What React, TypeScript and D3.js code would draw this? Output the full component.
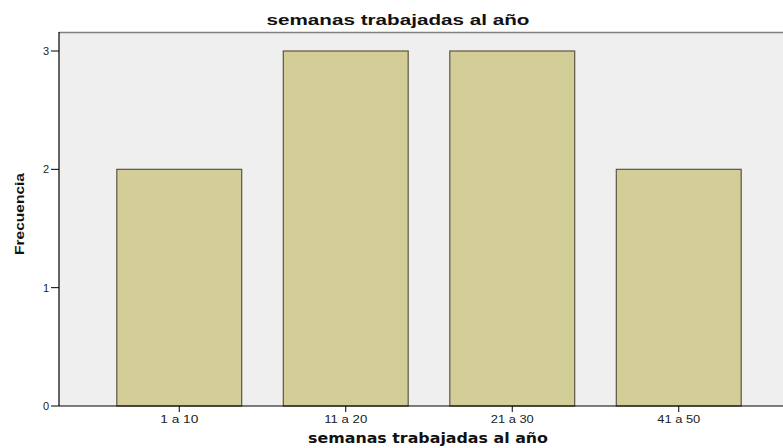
import React from "react";
import * as d3 from "d3";

const categories = ["1 a 10", "11 a 20", "21 a 30", "41 a 50"];
const frequencies = [2, 3, 3, 2];
const yTicks = [0, 1, 2, 3];
const title = "semanas trabajadas al año";
const xLabel = "semanas trabajadas al año";
const yLabel = "Frecuencia";

export default function App() {
  const W = 783, H = 448;
  const left = 59, top = 32, bottom = 406, right = 783;
  const x = d3.scaleBand<string>().domain(categories).range([96, 762]).paddingInner(0.25).paddingOuter(0.125);
  const y = d3.scaleLinear().domain([0, 3]).range([bottom, 51]);
  return (
    <svg width={W} height={H} style={{ position: "absolute", left: 0, top: 0, background: "#fff" }}>
      <rect x={left} y={top} width={right - left + 2} height={bottom - top} fill="#efefef" />
      <line x1={left} x2={right} y1={top + 0.5} y2={top + 0.5} stroke="#808080" strokeWidth={1.5} />
      {categories.map((c, i) => (
        <rect key={c} x={x(c)!} y={y(frequencies[i])} width={x.bandwidth()} height={bottom - y(frequencies[i])}
          fill="#d3cd98" stroke="#5b5641" strokeWidth={1.2} />
      ))}
      <line x1={left} x2={left} y1={top} y2={bottom} stroke="#000" strokeWidth={1.2} />
      <line x1={left} x2={right} y1={bottom} y2={bottom} stroke="#000" strokeWidth={1.2} />
      {yTicks.map(t => (
        <g key={t}>
          <line x1={left - 8} x2={left} y1={y(t)} y2={y(t)} stroke="#000" />
          <text x={left - 10} y={y(t)} dy="0.36em" textAnchor="end" fontFamily="Liberation Sans, Arial" fontSize={11} fill="#222">{t}</text>
        </g>
      ))}
      {categories.map(c => (
        <g key={c}>
          <line x1={x(c)! + x.bandwidth() / 2} x2={x(c)! + x.bandwidth() / 2} y1={bottom} y2={bottom + 6} stroke="#000" />
          <text x={x(c)! + x.bandwidth() / 2} y={bottom + 17} textAnchor="middle" fontFamily="Liberation Sans, Arial" fontSize={11.5}
            textLength={c.length === 6 ? 38 : 43} lengthAdjust="spacingAndGlyphs" fill="#222">{c}</text>
        </g>
      ))}
      <text x={398} y={25} textAnchor="middle" fontFamily="Liberation Sans, Arial" fontWeight="bold" fontSize={15.5}
        textLength={263} lengthAdjust="spacingAndGlyphs" fill="#111">{title}</text>
      <text x={428} y={443} textAnchor="middle" fontFamily="DejaVu Sans" fontWeight="bold" fontSize={13.5}
        textLength={240} lengthAdjust="spacingAndGlyphs" fill="#111">{xLabel}</text>
      <text transform="translate(24,214) rotate(-90)" textAnchor="middle" fontFamily="Liberation Sans, Arial" fontWeight="bold" fontSize={13.5}
        textLength={82} lengthAdjust="spacingAndGlyphs" fill="#111">{yLabel}</text>
    </svg>
  );
}
